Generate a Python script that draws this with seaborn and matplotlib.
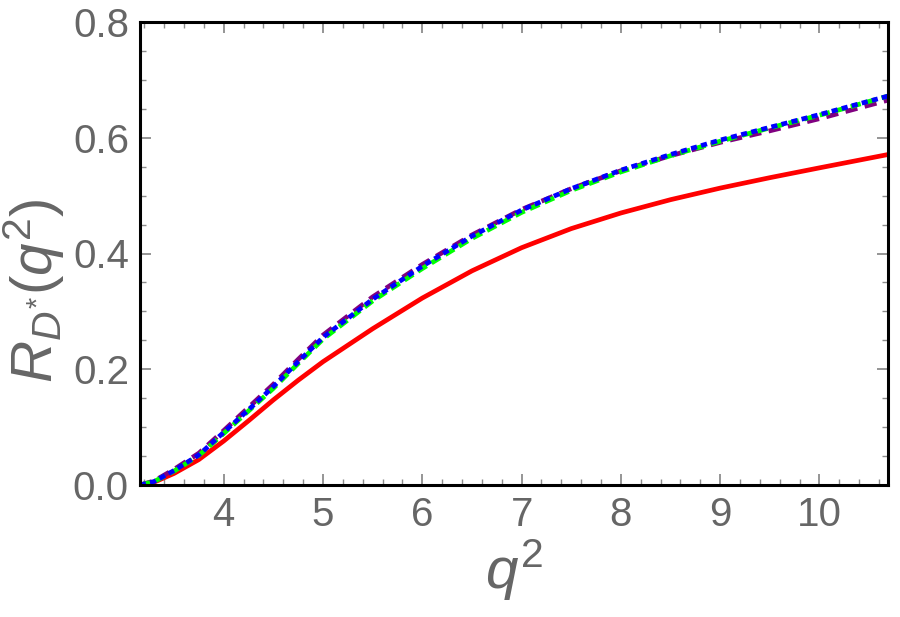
import numpy as np
import pandas as pd
import matplotlib
matplotlib.use("Agg")
import matplotlib.pyplot as plt
import seaborn as sns
from matplotlib.ticker import MultipleLocator

q2 = [3.157, 3.3, 3.5, 3.75, 4.0, 4.25, 4.5, 4.75, 5.0, 5.5, 6.0, 6.5, 7.0,
      7.5, 8.0, 8.5, 9.0, 9.5, 10.0, 10.3, 10.69]

r_red = [0.000, 0.005, 0.020, 0.044, 0.076, 0.111, 0.147, 0.181, 0.213, 0.270,
         0.323, 0.370, 0.410, 0.443, 0.470, 0.493, 0.513, 0.531, 0.548, 0.558, 0.571]
r_purple = [0.000, 0.007, 0.027, 0.055, 0.094, 0.134, 0.174, 0.217, 0.259, 0.325,
            0.381, 0.432, 0.476, 0.512, 0.543, 0.569, 0.592, 0.612, 0.633, 0.647, 0.665]
r_green = [0.000, 0.006, 0.024, 0.051, 0.089, 0.128, 0.167, 0.210, 0.252, 0.318,
           0.374, 0.426, 0.471, 0.509, 0.541, 0.569, 0.594, 0.617, 0.639, 0.653, 0.672]
r_blue = [0.000, 0.006, 0.025, 0.052, 0.091, 0.130, 0.170, 0.213, 0.255, 0.321,
          0.378, 0.430, 0.475, 0.512, 0.544, 0.571, 0.596, 0.618, 0.640, 0.654, 0.672]

x_ticks = [4, 5, 6, 7, 8, 9, 10]
y_ticks = [0.0, 0.2, 0.4, 0.6, 0.8]

sns.set_style("ticks")
plt.rcParams["font.family"] = ["Liberation Sans", "DejaVu Sans"]
plt.rcParams["mathtext.fontset"] = "custom"
plt.rcParams["mathtext.rm"] = "Liberation Sans"
plt.rcParams["mathtext.it"] = "Liberation Sans:italic"

fig = plt.figure(figsize=(9, 6.17), dpi=100)
ax = fig.add_axes([140 / 900, 1 - 485 / 617, 748 / 900, 463 / 617])

series = [
    ("red", r_red, "#ff0000", (None, None)),
    ("purple", r_purple, "#800080", (2.6, 1.6)),
    ("green", r_green, "#00ff00", (2.2, 1.2)),
    ("blue", r_blue, "#0000ff", (1.3, 0.9)),
]
for name, vals, col, dash in series:
    df = pd.DataFrame({"q2": q2, "R": vals})
    sns.lineplot(data=df, x="q2", y="R", ax=ax, color=col, lw=3.4)
    l = ax.get_lines()[-1]
    if dash[0] is not None:
        l.set_dashes(dash)
    l.set_solid_capstyle("butt")
    l.set_dash_capstyle("butt")
    l.set_solid_joinstyle("round")

ax.set_xlim(3.157, 10.69)
ax.set_ylim(0, 0.8)
ax.set_xticks(x_ticks)
ax.set_xticklabels([str(t) for t in x_ticks])
ax.set_yticks(y_ticks)
ax.set_yticklabels([f"{t:.1f}" for t in y_ticks])
ax.xaxis.set_minor_locator(MultipleLocator(0.2))
ax.yaxis.set_minor_locator(MultipleLocator(0.05))

gray = "#666666"
ax.tick_params(which="both", direction="in", top=True, right=True,
               color="#8c8c8c", labelcolor=gray, labelsize=29)
ax.tick_params(which="major", length=8, width=1.3, pad=8)
ax.tick_params(which="minor", length=4, width=1.0)
for s in ax.spines.values():
    s.set_linewidth(2.2)
    s.set_color("black")

ax.set_xlabel(r"$q^2$", fontsize=42, color=gray, labelpad=2)
ax.set_ylabel(r"$R_{D^{*}}(q^2)$", fontsize=42, color=gray)
ax.yaxis.set_label_coords(-0.097, 0.42)

fig.savefig("out.png", dpi=100)
